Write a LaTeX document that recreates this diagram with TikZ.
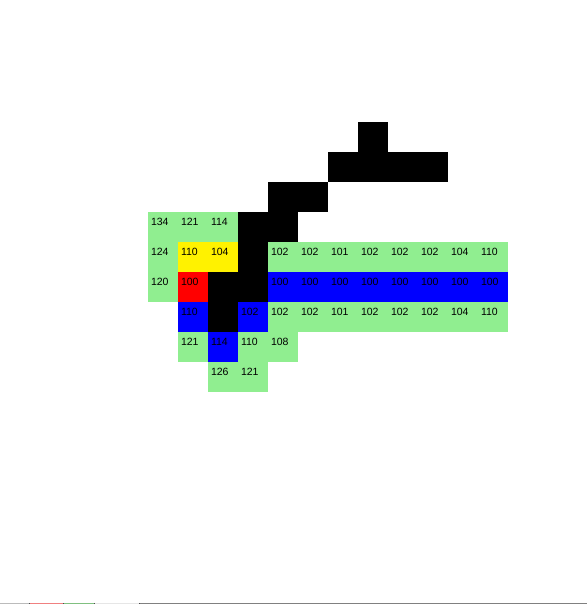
\documentclass[tikz,border=0pt]{standalone}
\usepackage{fontspec}
\setmainfont{Liberation Sans}
\usepackage{xcolor}
\definecolor{lgreen}{HTML}{90EE90}
\definecolor{barsalmon}{HTML}{F08080}
\definecolor{bargreen}{HTML}{80C080}
\definecolor{barlight}{HTML}{E6E6E6}
\definecolor{barmid}{HTML}{BBBBBB}
\definecolor{bardark}{HTML}{808080}

\begin{document}
\begin{tikzpicture}[
        x=1pt, y=-1pt,
        cell/.style={rectangle, minimum size=30pt, inner sep=0pt, draw=none},
        num/.style={anchor=west, inner sep=0pt, font=\fontsize{10.5}{12}\selectfont}
    ]
    \useasboundingbox (0,0) rectangle (587,604);
    % grid of cells
    \begin{scope}[shift={(148,122)}]
        % black path cells
        \foreach \c/\r in {7/0, 6/1, 7/1, 8/1, 9/1, 4/2, 5/2, 3/3, 4/3, 3/4, 2/5, 3/5, 2/6} {
            \node[cell, fill=black] (k\c-\r) at (\c*30+15, \r*30+15) {};
        }
        % light green cells
        \foreach \c/\r/\v in {0/3/134, 1/3/121, 2/3/114, 0/4/124, 4/4/102, 5/4/102, 6/4/101,
                7/4/102, 8/4/102, 9/4/102, 10/4/104, 11/4/110, 0/5/120,
                4/6/102, 5/6/102, 6/6/101, 7/6/102, 8/6/102, 9/6/102, 10/6/104, 11/6/110,
                1/7/121, 3/7/110, 4/7/108, 2/8/126, 3/8/121} {
            \node[cell, fill=lgreen] (g\c-\r) at (\c*30+15, \r*30+15) {};
            \node[num] at ([xshift=3pt, yshift=-10.5pt]g\c-\r.north west) {\v};
        }
        % yellow cells
        \foreach \c/\r/\v in {1/4/110, 2/4/104} {
            \node[cell, fill=yellow] (y\c-\r) at (\c*30+15, \r*30+15) {};
            \node[num] at ([xshift=3pt, yshift=-10.5pt]y\c-\r.north west) {\v};
        }
        % red start cell
        \node[cell, fill=red] (s1-5) at (1*30+15, 5*30+15) {};
        \node[num] at ([xshift=3pt, yshift=-10.5pt]s1-5.north west) {100};
        % blue cells
        \foreach \c/\r/\v in {4/5/100, 5/5/100, 6/5/100, 7/5/100, 8/5/100, 9/5/100, 10/5/100,
                11/5/100, 1/6/110, 3/6/102, 2/7/114} {
            \node[cell, fill=blue] (b\c-\r) at (\c*30+15, \r*30+15) {};
            \node[num] at ([xshift=3pt, yshift=-10.5pt]b\c-\r.north west) {\v};
        }
    \end{scope}
    % bottom bar
    \fill[barmid] (0,602.5) rectangle (29,604);
    \fill[barsalmon] (30,602.5) rectangle (63,604);
    \fill[bargreen] (64,602.5) rectangle (94,604);
    \fill[barlight] (95,602.5) rectangle (139,604);
    \fill[bardark] (140,602.5) rectangle (587,604);
    \foreach \t in {29, 63, 94, 139} {
        \fill[black!70] (\t,602.5) rectangle (\t+1,604);
    }
\end{tikzpicture}
\end{document}
